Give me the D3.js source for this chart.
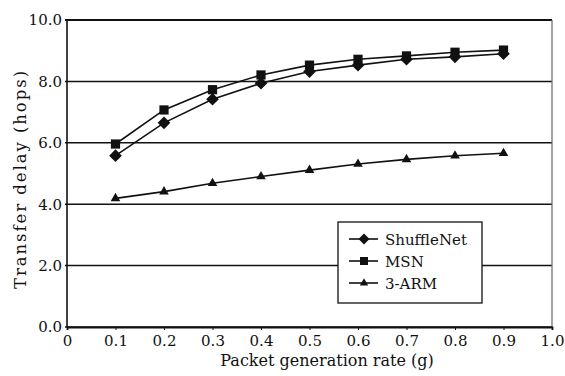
<!DOCTYPE html>
<html>
<head>
<meta charset="utf-8">
<script src="https://cdn.jsdelivr.net/npm/d3@7"></script>
<style>
  html, body { margin: 0; padding: 0; background: #fff; }
  svg { display: block; }
  text { font-family: "DejaVu Serif", "Liberation Serif", serif; fill: #111; }
</style>
</head>
<body>
<svg id="chart" width="565" height="376"></svg>
<script>
// Packet generation rate (g)
const rates = [0.1, 0.2, 0.3, 0.4, 0.5, 0.6, 0.7, 0.8, 0.9];
// Transfer delay (hops) per network
const shuffleNet = [5.58, 6.65, 7.42, 7.94, 8.32, 8.53, 8.72, 8.80, 8.90];
const msn        = [5.96, 7.07, 7.73, 8.21, 8.53, 8.72, 8.83, 8.95, 9.02];
const threeArm   = [4.19, 4.41, 4.68, 4.90, 5.11, 5.31, 5.46, 5.58, 5.66];
const seriesNames = ["ShuffleNet", "MSN", "3-ARM"];
const xTicks = [0, 0.1, 0.2, 0.3, 0.4, 0.5, 0.6, 0.7, 0.8, 0.9, 1.0];
const xTickLabels = ["0", "0.1", "0.2", "0.3", "0.4", "0.5", "0.6", "0.7", "0.8", "0.9", "1.0"];
const yTicks = [0, 2, 4, 6, 8, 10];
const yTickLabels = ["0.0", "2.0", "4.0", "6.0", "8.0", "10.0"];

const svg = d3.select("#chart");
const plot = { left: 67, right: 552, top: 20, bottom: 327 };
const ink = "#111";

const x = d3.scaleLinear().domain([0, 1]).range([plot.left, plot.right]);
const y = d3.scaleLinear().domain([0, 10]).range([plot.bottom, plot.top]);

// horizontal grid lines
svg.append("g")
  .selectAll("line")
  .data(yTicks)
  .join("line")
  .attr("x1", plot.left - 2).attr("x2", plot.right)
  .attr("y1", d => y(d)).attr("y2", d => y(d))
  .attr("stroke", ink)
  .attr("stroke-width", d => d === 10 ? 2 : 1.5);

// plot frame sides
svg.append("line").attr("x1", plot.left).attr("x2", plot.left).attr("y1", plot.top).attr("y2", plot.bottom)
  .attr("stroke", ink).attr("stroke-width", 1.6);
svg.append("line").attr("x1", plot.right).attr("x2", plot.right).attr("y1", plot.top).attr("y2", plot.bottom)
  .attr("stroke", "#666").attr("stroke-width", 1.2);

// x axis
const xAxis = d3.axisBottom(x)
  .tickValues(xTicks)
  .tickFormat((d, i) => xTickLabels[i])
  .tickSize(3)
  .tickPadding(5);
const gx = svg.append("g").attr("transform", `translate(0,${plot.bottom})`).call(xAxis);
gx.select(".domain").attr("stroke", ink).attr("stroke-width", 1.8);
gx.selectAll(".tick line").attr("stroke", ink);
gx.selectAll("text").attr("font-size", 15).attr("font-family", "DejaVu Serif").attr("fill", ink);

// y axis labels
const yAxis = d3.axisLeft(y)
  .tickValues(yTicks)
  .tickFormat((d, i) => yTickLabels[i])
  .tickSize(0)
  .tickPadding(5);
const gy = svg.append("g").attr("transform", `translate(${plot.left},0)`).call(yAxis);
gy.select(".domain").remove();
gy.selectAll("text").attr("font-size", 15).attr("font-family", "DejaVu Serif").attr("fill", ink);

// axis titles, spaced out to their printed widths
function fitText(sel, width) {
  const w = sel.node().getComputedTextLength();
  const n = sel.text().length;
  sel.attr("letter-spacing", Math.max(0, (width - w) / n).toFixed(2));
}
const xTitle = svg.append("text")
  .attr("x", 327).attr("y", 366)
  .attr("text-anchor", "middle")
  .attr("font-size", 16)
  .text("Packet generation rate (g)");
fitText(xTitle, 210);
const yTitle = svg.append("text")
  .attr("transform", `translate(26,179) rotate(-90)`)
  .attr("text-anchor", "middle")
  .attr("font-size", 16.5)
  .text("Transfer delay (hops)");
fitText(yTitle, 220);

// markers
const diamond = {
  draw(ctx, size) {
    const r = Math.sqrt(size / 2);
    ctx.moveTo(0, -r); ctx.lineTo(r, 0); ctx.lineTo(0, r); ctx.lineTo(-r, 0); ctx.closePath();
  }
};
const symbols = [diamond, d3.symbolSquare, d3.symbolTriangle];
const symbolSizes = [80, 85, 40];
const allSeries = [shuffleNet, msn, threeArm];

const line = d3.line().x(d => x(d[0])).y(d => y(d[1]));

allSeries.forEach((vals, si) => {
  const pts = rates.map((r, i) => [r, vals[i]]);
  svg.append("path")
    .attr("d", line(pts))
    .attr("fill", "none")
    .attr("stroke", ink)
    .attr("stroke-width", 1.6);
  svg.append("g")
    .selectAll("path")
    .data(pts)
    .join("path")
    .attr("transform", d => `translate(${x(d[0])},${y(d[1])})`)
    .attr("d", d3.symbol().type(symbols[si]).size(symbolSizes[si]))
    .attr("fill", ink);
});

// legend
const lg = svg.append("g");
lg.append("rect")
  .attr("x", 338).attr("y", 222).attr("width", 144).attr("height", 81)
  .attr("fill", "#fff").attr("stroke", ink).attr("stroke-width", 1.3);
seriesNames.forEach((name, i) => {
  const ly = 239 + i * 22;
  lg.append("line").attr("x1", 349).attr("x2", 378).attr("y1", ly).attr("y2", ly)
    .attr("stroke", ink).attr("stroke-width", 1.6);
  lg.append("path")
    .attr("transform", `translate(364,${ly})`)
    .attr("d", d3.symbol().type(symbols[i]).size(symbolSizes[i] * 0.75))
    .attr("fill", ink);
  lg.append("text")
    .attr("x", 385).attr("y", ly + 6)
    .attr("font-size", 15)
    .text(name);
});
</script>
</body>
</html>
